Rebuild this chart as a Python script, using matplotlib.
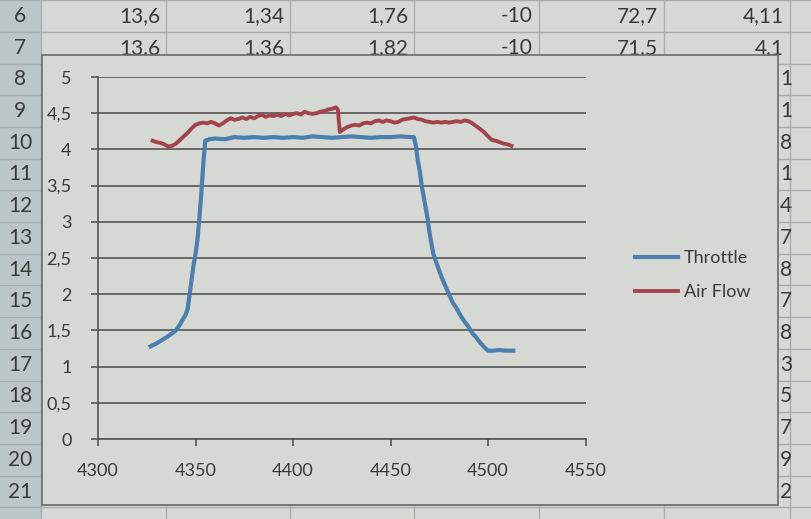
import matplotlib.pyplot as plt
from matplotlib.patches import Rectangle

# throttle trace
throttle_x = [4327, 4330, 4333, 4336, 4338, 4340, 4342, 4343, 4345, 4346,
              4347, 4348, 4349, 4350, 4351, 4352, 4353, 4354, 4355, 4357,
              4360, 4365, 4370, 4375, 4380, 4385, 4390, 4395, 4400, 4405,
              4410, 4415, 4420, 4425, 4430, 4435, 4440, 4445, 4450, 4455,
              4460, 4462, 4463, 4464, 4465, 4466, 4467, 4468, 4469, 4470,
              4471, 4472, 4474, 4476, 4478, 4480, 4482, 4484, 4486, 4488,
              4490, 4492, 4494, 4496, 4498, 4500, 4503, 4506, 4509, 4513]
throttle_y = [1.28, 1.32, 1.37, 1.42, 1.46, 1.50, 1.58, 1.63, 1.72, 1.80,
              2.00, 2.20, 2.40, 2.55, 2.75, 3.05, 3.40, 3.80, 4.12, 4.14,
              4.15, 4.14, 4.17, 4.16, 4.17, 4.16, 4.17, 4.16, 4.17, 4.16,
              4.18, 4.17, 4.16, 4.17, 4.18, 4.17, 4.16, 4.17, 4.17, 4.18,
              4.17, 4.17, 4.05, 3.85, 3.70, 3.50, 3.35, 3.20, 3.05, 2.85,
              2.70, 2.55, 2.40, 2.25, 2.12, 2.00, 1.88, 1.80, 1.70, 1.62,
              1.55, 1.46, 1.40, 1.33, 1.27, 1.22, 1.22, 1.23, 1.22, 1.22]

# air flow trace
airflow_x = [4328, 4330, 4332, 4334, 4336, 4338, 4340, 4342, 4344, 4346,
             4348, 4350, 4352, 4354, 4356, 4358, 4360, 4362, 4364, 4366,
             4368, 4370, 4372, 4374, 4376, 4378, 4380, 4382, 4384, 4386,
             4388, 4390, 4392, 4394, 4396, 4398, 4400, 4402, 4404, 4406,
             4408, 4410, 4412, 4414, 4416, 4418, 4420, 4422, 4423, 4424,
             4426, 4428, 4430, 4432, 4434, 4436, 4438, 4440, 4442, 4444,
             4446, 4448, 4450, 4452, 4454, 4456, 4458, 4460, 4462, 4464,
             4466, 4468, 4470, 4472, 4474, 4476, 4478, 4480, 4482, 4484,
             4486, 4488, 4490, 4492, 4494, 4496, 4498, 4500, 4502, 4504,
             4506, 4508, 4510, 4512]
airflow_y = [4.12, 4.10, 4.09, 4.07, 4.04, 4.05, 4.08, 4.13, 4.18, 4.23,
             4.29, 4.34, 4.36, 4.37, 4.36, 4.38, 4.36, 4.33, 4.36, 4.40,
             4.43, 4.41, 4.42, 4.44, 4.42, 4.45, 4.43, 4.46, 4.48, 4.45,
             4.47, 4.46, 4.48, 4.46, 4.49, 4.47, 4.49, 4.50, 4.48, 4.52,
             4.50, 4.49, 4.50, 4.52, 4.53, 4.55, 4.56, 4.58, 4.55, 4.24,
             4.28, 4.31, 4.33, 4.34, 4.33, 4.36, 4.37, 4.36, 4.39, 4.40,
             4.38, 4.40, 4.39, 4.37, 4.38, 4.41, 4.42, 4.43, 4.44, 4.42,
             4.41, 4.39, 4.38, 4.37, 4.38, 4.37, 4.38, 4.37, 4.38, 4.39,
             4.38, 4.40, 4.39, 4.36, 4.32, 4.28, 4.24, 4.18, 4.13, 4.12,
             4.10, 4.08, 4.07, 4.05]

y_ticks = [0, 0.5, 1, 1.5, 2, 2.5, 3, 3.5, 4, 4.5, 5]
x_ticks = [4300, 4350, 4400, 4450, 4500, 4550]

# spreadsheet around the chart
row_numbers = list(range(6, 22))
row6_values = ["13,6", "1,34", "1,76", "-10", "72,7", "4,11"]
row7_values = ["13,6", "1,36", "1,82", "-10", "71,5", "4,1"]
right_column = ["1", "1", "8", "1", "4", "7", "8", "7", "8", "3", "5", "7", "9", "2"]

W, H = 811, 519
CELL = "#d6d8d3"
HEADER = "#bcc5c7"
BLUE = "#4a7fb0"
RED = "#a2434e"
TEXT = "#3a3a3a"
FONT = "Lato"

fig = plt.figure(figsize=(W / 100, H / 100), dpi=100, facecolor=CELL)

sheet = fig.add_axes([0, 0, 1, 1])
sheet.set_xlim(0, W)
sheet.set_ylim(H, 0)
sheet.axis("off")
sheet.set_facecolor(CELL)

row_h = 31.7
row_top = 16 - row_h / 2
col_edges = [41, 166, 290, 414, 539, 664, 790]

sheet.add_patch(Rectangle((0, 0), 41, H, facecolor=HEADER, edgecolor="none"))
for i in range(len(row_numbers) + 2):
    y = row_top + i * row_h
    sheet.plot([0, W], [y, y], color="#a6afaf", lw=1)
for x in col_edges:
    sheet.plot([x, x], [0, H], color="#a6afaf", lw=1)
for i, r in enumerate(row_numbers):
    sheet.text(20, 16 + i * row_h, str(r), ha="center", va="center",
               fontsize=15, color=TEXT, family=FONT)
for j in range(len(row6_values)):
    sheet.text(col_edges[j + 1] - 6, 16, row6_values[j], ha="right", va="center",
               fontsize=15, color=TEXT, family=FONT)
    sheet.text(col_edges[j + 1] - 6, 16 + row_h, row7_values[j],
               ha="right", va="center", fontsize=15, color=TEXT, family=FONT)
for i, v in enumerate(right_column):
    sheet.text(792, 16 + (i + 2) * row_h, v, ha="right", va="center",
               fontsize=15, color=TEXT, family=FONT, zorder=6)

# chart area
sheet.add_patch(Rectangle((42, 55), 736, 450, facecolor=CELL,
                          edgecolor="#6a6a6a", lw=1.2, zorder=5))

ax = fig.add_axes([98 / W, (H - 439) / H, 487.5 / W, 362 / H])
ax.set_facecolor("none")
ax.set_zorder(10)

ax.plot(throttle_x, throttle_y, color=BLUE, lw=3, label="Throttle")
ax.plot(airflow_x, airflow_y, color=RED, lw=2.8, label="Air Flow")

ax.set_xlim(4300, 4550)
ax.set_ylim(0, 5)
ax.set_xticks(x_ticks)
ax.set_yticks(y_ticks)
ax.set_yticklabels([f"{t:g}".replace(".", ",") for t in y_ticks])
ax.grid(axis="y", color="#555555", lw=1.2)
ax.set_axisbelow(True)
for s in ["top", "right"]:
    ax.spines[s].set_visible(False)
for s in ["left", "bottom"]:
    ax.spines[s].set_color("#555555")
    ax.spines[s].set_linewidth(1.2)
ax.tick_params(axis="both", colors="#555555", length=5, width=1.2,
               labelsize=13, labelcolor=TEXT)
ax.tick_params(axis="x", pad=12)
ax.tick_params(axis="y", pad=14)
for lab in ax.get_xticklabels() + ax.get_yticklabels():
    lab.set_family(FONT)

leg = ax.legend(loc="center left", bbox_to_anchor=(635 / W, (H - 275) / H),
                bbox_transform=fig.transFigure, frameon=False,
                handlelength=2.4, handletextpad=0.3, labelspacing=1.0,
                borderpad=0, borderaxespad=0, prop={"family": FONT, "size": 13})
for t in leg.get_texts():
    t.set_color(TEXT)

fig.savefig("out.png", dpi=100, facecolor=CELL)
